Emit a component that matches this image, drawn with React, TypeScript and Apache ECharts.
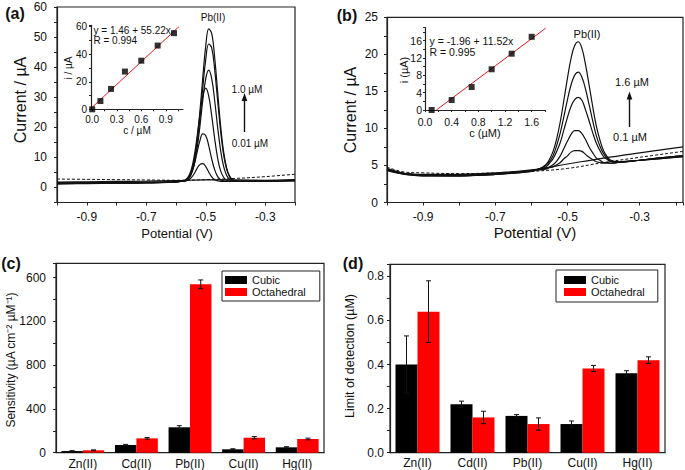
import React, { useEffect, useRef } from 'react';
import * as echarts from 'echarts';

const FONT = 'Liberation Sans, Arial, Helvetica, sans-serif';
const INK = '#111';

// ---------- Panel (a): SWV curves, octahedral ----------
const potA = [-1.0, -0.9, -0.8, -0.7, -0.62, -0.6, -0.58, -0.57, -0.56, -0.55, -0.54, -0.53, -0.52, -0.51, -0.5, -0.49, -0.48, -0.47, -0.46, -0.45, -0.44, -0.43, -0.42, -0.41, -0.4, -0.38, -0.3, -0.2];
const curveA1 = [1.2, 1.3, 1.4, 1.5, 1.7, 1.8, 2.1, 2.3, 3.0, 4.7, 8.4, 15.0, 24.8, 36.5, 47.0, 52.7, 51.2, 43.2, 31.7, 20.5, 11.9, 6.6, 3.8, 2.6, 2.2, 2.0, 2.1, 2.5];
const curveA2 = [1.3, 1.4, 1.5, 1.6, 1.8, 1.9, 2.1, 2.3, 2.9, 4.4, 7.8, 13.7, 22.6, 33.1, 42.6, 47.7, 46.4, 39.2, 28.8, 18.7, 10.9, 6.1, 3.6, 2.5, 2.2, 2.0, 2.1, 2.4];
const curveA3 = [1.3, 1.4, 1.5, 1.6, 1.8, 1.9, 2.1, 2.2, 2.7, 4.1, 7.0, 12.3, 20.0, 28.9, 36.2, 39.0, 36.2, 28.9, 20.0, 12.3, 7.0, 4.1, 2.7, 2.2, 2.1, 2.0, 2.1, 2.3];
const curveA4 = [1.4, 1.5, 1.5, 1.6, 1.8, 1.9, 2.1, 2.4, 3.4, 5.5, 9.7, 16.2, 23.9, 30.4, 33.0, 30.4, 23.9, 16.2, 9.7, 5.5, 3.4, 2.4, 2.1, 2.0, 2.0, 2.0, 2.1, 2.3];
const curveA5 = [1.4, 1.5, 1.6, 1.7, 1.8, 1.9, 2.1, 2.3, 2.9, 4.4, 7.2, 11.3, 15.4, 17.8, 17.2, 13.9, 9.5, 5.9, 3.6, 2.6, 2.2, 2.0, 2.0, 2.0, 2.0, 2.0, 2.1, 2.3];
const curveA6 = [1.5, 1.6, 1.6, 1.7, 1.8, 1.9, 2.0, 2.1, 2.4, 3.1, 4.4, 6.2, 7.6, 7.9, 6.9, 5.1, 3.5, 2.6, 2.2, 2.0, 2.0, 2.0, 2.0, 2.0, 2.0, 2.0, 2.1, 2.3];
const potAExtra = [-1.0, -0.9, -0.8, -0.7, -0.6, -0.5, -0.4, -0.3, -0.2];
const dashedA = [2.8, 2.7, 2.6, 2.5, 2.4, 2.6, 3.0, 3.6, 4.4];
const lowA = [1.8, 1.9, 2.0, 2.1, 2.3, 2.5, 2.5, 2.4, 2.6];
const potTickValues = [-0.9, -0.7, -0.5, -0.3];
const potTickLabels = ['-0.9', '-0.7', '-0.5', '-0.3'];

// inset (a)
const concA = [0, 0.1, 0.23, 0.4, 0.6, 0.8, 1.0];
const currA = [0, 6.0, 14.8, 27.4, 35.3, 46.3, 55.3];
const fitAIntercept = 1.46;
const fitASlope = 55.22;
const fitARange = [-0.015, 1.06];
const insetAXTicks = [0, 0.3, 0.6, 0.9];
const insetAXLabels = ['0.0', '0.3', '0.6', '0.9'];

// ---------- Panel (b): SWV curves, cubic ----------
const potB = [-1.0, -0.95, -0.9, -0.8, -0.7, -0.6, -0.58, -0.56, -0.55, -0.54, -0.53, -0.52, -0.51, -0.5, -0.49, -0.48, -0.47, -0.46, -0.45, -0.44, -0.43, -0.42, -0.41, -0.4, -0.39, -0.38, -0.36, -0.3, -0.25, -0.18];
const curveB1 = [4.6, 3.9, 3.7, 3.7, 3.9, 4.3, 4.5, 5.1, 5.8, 6.9, 8.6, 10.9, 13.8, 16.8, 19.5, 21.2, 21.7, 20.8, 18.6, 15.8, 12.9, 10.3, 8.4, 7.0, 6.2, 5.7, 5.5, 5.7, 6.0, 6.3];
const curveB2 = [4.5, 3.9, 3.7, 3.6, 3.8, 4.3, 4.5, 5.0, 5.5, 6.3, 7.7, 9.4, 11.6, 13.9, 15.9, 17.2, 17.6, 16.9, 15.3, 13.2, 11.0, 9.0, 7.6, 6.6, 6.0, 5.6, 5.5, 5.7, 5.9, 6.2];
const curveB3 = [4.4, 3.8, 3.6, 3.6, 3.8, 4.2, 4.5, 4.8, 5.3, 5.9, 6.9, 8.1, 9.8, 11.5, 13.0, 13.9, 14.2, 13.8, 12.5, 11.0, 9.4, 8.0, 7.0, 6.2, 5.8, 5.5, 5.4, 5.7, 6.0, 6.3];
const curveB4 = [4.3, 3.8, 3.6, 3.6, 3.8, 4.2, 4.4, 4.6, 4.8, 5.1, 5.6, 6.3, 7.3, 8.3, 9.2, 9.7, 9.7, 9.3, 8.5, 7.5, 6.7, 6.0, 5.7, 5.4, 5.4, 5.3, 5.4, 5.7, 5.9, 6.2];
const curveB5 = [4.5, 3.9, 3.7, 3.7, 3.9, 4.3, 4.4, 4.5, 4.7, 4.8, 5.1, 5.4, 5.9, 6.3, 6.8, 7.0, 7.0, 6.9, 6.5, 6.1, 5.8, 5.5, 5.4, 5.3, 5.3, 5.3, 5.4, 5.7, 6.0, 6.3];
const potBExtra = [-1.0, -0.95, -0.9, -0.8, -0.7, -0.6, -0.5, -0.4, -0.3, -0.18];
const solidB = [4.4, 3.9, 3.8, 3.8, 4.0, 4.4, 5.2, 6.0, 6.7, 7.5];
const dashedB = [4.8, 4.1, 4.0, 3.9, 4.0, 4.2, 4.6, 5.4, 6.1, 6.9];

// inset (b)
const concB = [0.1, 0.4, 0.7, 1.0, 1.3, 1.6];
const currB = [0, 2.3, 5.3, 9.4, 13.0, 16.9];
const fitBIntercept = -1.96;
const fitBSlope = 11.52;
const fitBRange = [0.17, 1.81];
const insetBXTicks = [0, 0.4, 0.8, 1.2, 1.6];
const insetBXLabels = ['0.0', '0.4', '0.8', '1.2', '1.6'];

// ---------- Panels (c) and (d): bars ----------
const ions = ['Zn(II)', 'Cd(II)', 'Pb(II)', 'Cu(II)', 'Hg(II)'];
const sensCubic = [15, 70, 232, 31, 49];
const sensCubicErr = [4, 6, 15, 5, 6];
const sensOcta = [22, 131, 1538, 137, 125];
const sensOctaErr = [4, 8, 40, 10, 8];
const sensTickValues = [0, 400, 800, 1200, 1600];
const sensTickLabels = ['0', '400', '800', '1200', '600'];
const lodCubic = [0.40, 0.22, 0.167, 0.13, 0.36];
const lodCubicErr = [0.13, 0.014, 0.006, 0.014, 0.012];
const lodOcta = [0.64, 0.16, 0.13, 0.382, 0.42];
const lodOctaErr = [0.14, 0.028, 0.028, 0.014, 0.015];
const lodTickValues = [0, 0.2, 0.4, 0.6, 0.8];
const lodTickLabels = ['0.0', '0.2', '0.4', '0.6', '0.8'];

const labelFrom = (values: number[], labels: string[]) => (v: number) => {
  const i = values.findIndex((t) => Math.abs(t - v) < 1e-6);
  return i >= 0 ? labels[i] : '';
};

const zip = (xs: number[], ys: number[]) => xs.map((x, i) => [x, ys[i]]);

const lineAx = { show: true, onZero: false, lineStyle: { color: '#222', width: 1.2 } };

function valueAxis(gridIndex: number, min: number, max: number, interval: number, fmt: (v: number) => string, fontSize: number, margin: number, tickLen = 3, extra: any = {}) {
  return {
    type: 'value',
    gridIndex,
    min,
    max,
    interval,
    axisLine: lineAx,
    axisTick: { show: true, inside: false, length: tickLen, lineStyle: { color: '#222', width: 1 } },
    splitLine: { show: false },
    axisLabel: { formatter: fmt, color: INK, fontSize, fontFamily: FONT, margin, lineHeight: fontSize },
    ...extra,
  };
}

function errorSeries(xi: number, vals: number[], errs: number[], offset: number) {
  return {
    type: 'custom',
    xAxisIndex: xi,
    yAxisIndex: xi,
    z: 5,
    silent: true,
    data: vals.map((v, i) => [i, v, errs[i]]),
    encode: { x: 0, y: 1 },
    renderItem: (params: any, api: any) => {
      const idx = api.value(0);
      const v = api.value(1);
      const e = api.value(2);
      const top = api.coord([idx, v + e]);
      const bot = api.coord([idx, Math.max(0, v - e)]);
      const bw = api.size([1, 0])[0];
      const x = top[0] + offset * bw;
      const cap = 2.5;
      const st = { stroke: '#111', lineWidth: 1 };
      return {
        type: 'group',
        children: [
          { type: 'line', shape: { x1: x, y1: top[1], x2: x, y2: bot[1] }, style: st },
          { type: 'line', shape: { x1: x - cap, y1: top[1], x2: x + cap, y2: top[1] }, style: st },
          { type: 'line', shape: { x1: x - cap, y1: bot[1], x2: x + cap, y2: bot[1] }, style: st },
        ],
      };
    },
  };
}

function curve(xi: number, xs: number[], ys: number[], dashed = false) {
  return {
    type: 'line',
    xAxisIndex: xi,
    yAxisIndex: xi,
    data: zip(xs, ys),
    showSymbol: false,
    symbol: 'none',
    smooth: 0.4,
    silent: true,
    lineStyle: { color: INK, width: dashed ? 1 : 1.2, type: dashed ? [3, 2] : 'solid' },
    z: 2,
  };
}

function txt(text: string, x: number, y: number, fontSize: number, opts: any = {}) {
  return {
    type: 'text',
    x,
    y,
    rotation: opts.rotate ? Math.PI / 2 : 0,
    z: 100,
    silent: true,
    style: {
      text,
      fill: INK,
      fontSize,
      fontFamily: FONT,
      fontWeight: opts.bold ? 'bold' : 'normal',
      align: opts.align || 'center',
      verticalAlign: 'middle',
      lineHeight: opts.lineHeight || fontSize + 1,
    },
  };
}

function arrow(x: number, y1: number, y2: number) {
  return [
    { type: 'line', z: 100, shape: { x1: x, y1, x2: x, y2: y2 + 5 }, style: { stroke: INK, lineWidth: 1.4 } },
    { type: 'polygon', z: 100, shape: { points: [[x, y2], [x - 2.8, y2 + 8], [x + 2.8, y2 + 8]] }, style: { fill: INK } },
  ];
}

const legendBase = {
  data: ['Cubic', 'Octahedral'],
  orient: 'vertical',
  itemGap: 0,
  itemWidth: 22,
  itemHeight: 8,
  icon: 'rect',
  selectedMode: false,
  borderColor: '#222',
  borderWidth: 1,
  textStyle: { fontSize: 11, lineHeight: 12, color: INK, fontFamily: FONT },
};

const option: any = {
  animation: false,
  backgroundColor: '#fff',
  textStyle: { fontFamily: FONT },
  grid: [
    { left: 57, top: 7, width: 238, height: 195.5, show: true, borderColor: '#222', borderWidth: 1.2, outerBoundsMode: 'none' },
    { left: 91, top: 25.3, width: 92, height: 84, outerBoundsMode: 'none' },
    { left: 387, top: 17.3, width: 296, height: 185.2, show: true, borderColor: '#222', borderWidth: 1.2, outerBoundsMode: 'none' },
    { left: 425, top: 27.7, width: 120, height: 82.3, outerBoundsMode: 'none' },
    { left: 56, top: 263.3, width: 268, height: 189.4, show: true, borderColor: '#222', borderWidth: 1.2, outerBoundsMode: 'none' },
    { left: 390, top: 264.3, width: 275, height: 188.4, show: true, borderColor: '#222', borderWidth: 1.2, outerBoundsMode: 'none' },
  ],
  xAxis: [
    valueAxis(0, -1.0, -0.2, 0.1, labelFrom(potTickValues, potTickLabels), 12, 8),
    valueAxis(1, -0.015, 1.11, 0.15, labelFrom(insetAXTicks, insetAXLabels), 10, 5.5, 2, {
      axisTick: { show: true, length: 2, lineStyle: { color: '#222' }, customValues: [0, 0.15, 0.3, 0.45, 0.6, 0.75, 0.9, 1.05] },
      axisLabel: { customValues: insetAXTicks, formatter: labelFrom(insetAXTicks, insetAXLabels), color: INK, fontSize: 10, lineHeight: 10, fontFamily: FONT, margin: 5.5 },
    }),
    valueAxis(2, -1.0, -0.18, 0.1, labelFrom(potTickValues, potTickLabels), 12, 8),
    valueAxis(3, 0, 1.8, 0.2, labelFrom(insetBXTicks, insetBXLabels), 10.5, 6.5, 2),
    { type: 'category', gridIndex: 4, data: ions, axisLine: lineAx, axisTick: { show: false }, axisLabel: { color: INK, fontSize: 12, fontFamily: FONT, margin: 5 } },
    { type: 'category', gridIndex: 5, data: ions, axisLine: lineAx, axisTick: { show: false }, axisLabel: { color: INK, fontSize: 12, fontFamily: FONT, margin: 4 } },
  ],
  yAxis: [
    valueAxis(0, -5, 60, 5, (v) => (v % 10 === 0 ? String(v) : ''), 12, 10),
    valueAxis(1, 0, 61, 10, (v) => (v % 20 === 0 ? String(v) : ''), 10, 4, 2),
    valueAxis(2, 0, 25, 2.5, (v) => (v % 5 === 0 ? String(v) : ''), 12, 9),
    valueAxis(3, 0, 19, 2, (v) => (v % 4 === 0 ? String(v) : ''), 10.5, 3, 2),
    valueAxis(4, 0, 1730, 200, labelFrom(sensTickValues, sensTickLabels), 12, 10),
    valueAxis(5, 0, 0.855, 0.1, labelFrom(lodTickValues, lodTickLabels), 12, 6),
  ],
  legend: [
    { ...legendBase, left: 222, top: 271, padding: [3, 14, 3, 3] },
    { ...legendBase, left: 556, top: 270, padding: [4, 13, 4, 8] },
  ],
  series: [
    // (a)
    curve(0, potAExtra, dashedA, true),
    curve(0, potAExtra, lowA),
    curve(0, potA, curveA6),
    curve(0, potA, curveA5),
    curve(0, potA, curveA4),
    curve(0, potA, curveA3),
    curve(0, potA, curveA2),
    curve(0, potA, curveA1),
    // inset (a)
    {
      type: 'line', xAxisIndex: 1, yAxisIndex: 1, symbol: 'none', silent: true, z: 4,
      data: fitARange.map((c) => [c, fitAIntercept + fitASlope * c]),
      lineStyle: { color: '#e8161b', width: 1 },
    },
    {
      type: 'scatter', xAxisIndex: 1, yAxisIndex: 1, symbol: 'rect', symbolSize: 6, clip: false, silent: true, z: 5,
      data: zip(concA, currA), itemStyle: { color: '#000' },
    },
    // (b)
    curve(2, potBExtra, dashedB, true),
    curve(2, potBExtra, solidB),
    curve(2, potB, curveB5),
    curve(2, potB, curveB4),
    curve(2, potB, curveB3),
    curve(2, potB, curveB2),
    curve(2, potB, curveB1),
    // inset (b)
    {
      type: 'line', xAxisIndex: 3, yAxisIndex: 3, symbol: 'none', silent: true, z: 4,
      data: fitBRange.map((c) => [c, fitBIntercept + fitBSlope * c]),
      lineStyle: { color: '#e8161b', width: 1 },
    },
    {
      type: 'scatter', xAxisIndex: 3, yAxisIndex: 3, symbol: 'rect', symbolSize: 6, clip: false, silent: true, z: 5,
      data: zip(concB, currB), itemStyle: { color: '#000' },
    },
    // (c)
    { type: 'bar', name: 'Cubic', xAxisIndex: 4, yAxisIndex: 4, data: sensCubic, barGap: '0%', barCategoryGap: '20%', itemStyle: { color: '#000' }, silent: true },
    { type: 'bar', name: 'Octahedral', xAxisIndex: 4, yAxisIndex: 4, data: sensOcta, barGap: '0%', barCategoryGap: '20%', itemStyle: { color: '#ff0000' }, silent: true },
    errorSeries(4, sensCubic, sensCubicErr, -0.2),
    errorSeries(4, sensOcta, sensOctaErr, 0.2),
    // (d)
    { type: 'bar', name: 'Cubic', xAxisIndex: 5, yAxisIndex: 5, data: lodCubic, barGap: '0%', barCategoryGap: '20%', itemStyle: { color: '#000' }, silent: true },
    { type: 'bar', name: 'Octahedral', xAxisIndex: 5, yAxisIndex: 5, data: lodOcta, barGap: '0%', barCategoryGap: '20%', itemStyle: { color: '#ff0000' }, silent: true },
    errorSeries(5, lodCubic, lodCubicErr, -0.2),
    errorSeries(5, lodOcta, lodOctaErr, 0.2),
  ],
  graphic: [
    txt('(a)', 15, 13, 16, { bold: true }),
    txt('(b)', 347, 15, 16, { bold: true }),
    txt('(c)', 11, 263, 16, { bold: true }),
    txt('(d)', 353, 263, 16, { bold: true }),
    txt('Current / µA', 20, 100, 16, { rotate: true }),
    txt('Potential (V)', 177, 233, 13),
    txt('Current / µA', 350, 110, 16, { rotate: true }),
    txt('Potential (V)', 535, 232, 15),
    txt('Sensitivity (µA cm⁻² µM⁻¹)', 11, 360, 12, { rotate: true }),
    txt('Limit of detection (µM)', 350, 356, 12.5, { rotate: true }),
    // inset (a)
    txt('y = 1.46 + 55.22x\nR = 0.994', 93.5, 35.8, 10, { align: 'left', lineHeight: 10 }),
    txt('i / µA', 68, 68, 10, { rotate: true }),
    txt('c / µM', 137, 130.5, 10, { lineHeight: 10 }),
    txt('Pb(II)', 213, 17, 10),
    txt('1.0 µM', 247, 89, 10),
    txt('0.01 µM', 250, 143, 10),
    ...arrow(244.5, 132, 93),
    // inset (b)
    txt('y = -1.96 + 11.52x\nR = 0.995', 429.5, 46.5, 10.5, { align: 'left', lineHeight: 10.5 }),
    txt('i (µA)', 404, 70, 11, { rotate: true }),
    txt('c (µM)', 485, 132.5, 11, { lineHeight: 11 }),
    txt('Pb(II)', 587, 34, 11),
    txt('1.6 µM', 632, 82, 11),
    txt('0.1 µM', 630, 137, 11),
    ...arrow(629.5, 127, 91.5),
  ],
};

export default function App() {
  const ref = useRef<HTMLDivElement>(null);
  useEffect(() => {
    if (!ref.current) return;
    const chart = echarts.init(ref.current, null, { renderer: 'svg' });
    chart.setOption(option);
    return () => chart.dispose();
  }, []);
  return (
    <div
      ref={ref}
      style={{ position: 'fixed', left: 0, top: 0, width: 685, height: 470, background: '#fff' }}
    />
  );
}
